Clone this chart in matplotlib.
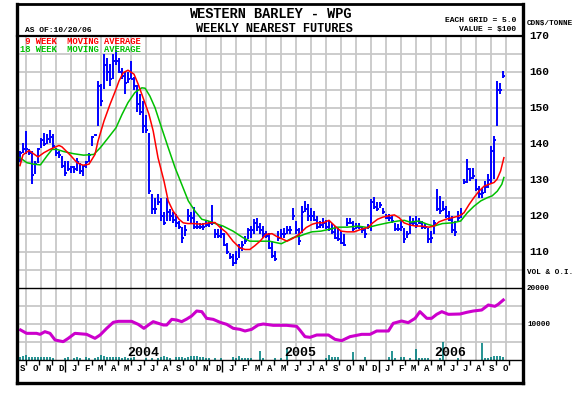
import matplotlib
matplotlib.use("Agg")
import matplotlib.pyplot as plt
import numpy as np

W, H = 576, 396
FONT = "Liberation Mono"

# weekly bars, Sep 2003 .. Oct 2006 (week index 0..161)
highs = [138.1, 140.4, 143.6, 138.5, 138.0, 135.3, 139.0, 141.8, 143.1, 142.7, 144.0, 142.7, 139.0, 138.0, 136.7, 135.3,
         135.3, 133.9, 133.9, 136.2, 134.8, 134.3, 135.3, 137.6, 142.2, 142.7, 157.5, 156.6, 164.9, 164.0, 162.1, 164.9,
         166.0, 164.0, 161.0, 160.0, 160.0, 163.0, 158.5, 156.5, 154.0, 152.0, 148.0, 143.0, 126.0, 125.0, 126.0, 125.0,
         121.0, 125.0, 122.0, 121.0, 120.5, 118.5, 117.0, 117.5, 122.0, 121.0, 122.5, 118.5, 118.0, 118.0, 118.5, 118.5,
         123.0, 116.3, 116.3, 117.2, 115.4, 112.6, 109.8, 109.4, 110.3, 112.1, 113.0, 114.4, 116.8, 117.2, 119.1, 119.5,
         118.1, 117.2, 115.8, 115.4, 113.0, 110.3, 115.8, 116.3, 116.8, 117.2, 117.2, 122.2, 118.5, 116.8, 122.7, 124.2,
         123.3, 122.2, 121.4, 120.0, 118.6, 119.5, 119.0, 118.6, 118.1, 117.2, 116.8, 115.8, 114.9, 119.5, 119.5, 118.6,
         118.1, 118.1, 117.2, 116.8, 117.7, 124.7, 125.2, 123.8, 123.8, 122.3, 120.5, 120.5, 120.0, 118.1, 117.7, 118.6,
         116.8, 115.8, 120.0, 119.5, 120.0, 119.5, 118.6, 118.0, 116.8, 115.8, 119.0, 127.4, 125.5, 124.2, 122.8, 121.4,
         120.0, 118.6, 121.4, 122.3, 130.2, 135.7, 133.4, 133.4, 130.2, 128.3, 127.9, 129.7, 131.6, 139.4, 142.2, 157.5,
         157.0, 160.3]
lows = [134.9, 137.6, 137.1, 137.0, 128.8, 131.6, 134.8, 139.0, 139.4, 140.0, 140.4, 139.0, 136.7, 136.2, 133.4, 131.0,
        132.5, 132.0, 132.0, 132.5, 131.6, 131.0, 133.4, 134.9, 139.4, 142.2, 145.0, 150.5, 155.2, 157.5, 156.1, 158.0,
        162.0, 159.8, 158.0, 154.0, 157.0, 158.0, 155.0, 149.0, 148.0, 143.0, 143.0, 126.0, 120.5, 120.5, 123.0, 118.5,
        117.5, 118.5, 118.5, 118.0, 117.0, 116.5, 112.5, 114.5, 118.5, 118.0, 116.5, 116.5, 116.5, 116.0, 117.0, 117.0,
        117.5, 114.0, 113.8, 114.0, 111.7, 109.4, 108.0, 106.1, 106.6, 108.4, 110.3, 112.1, 113.5, 114.0, 114.9, 115.8,
        114.9, 114.0, 114.0, 110.7, 108.4, 107.5, 113.0, 113.5, 114.0, 114.9, 114.9, 119.0, 114.9, 112.0, 115.3, 121.0,
        118.6, 118.6, 118.6, 116.3, 116.8, 116.8, 116.3, 115.8, 114.9, 113.5, 113.0, 112.1, 111.7, 117.2, 117.7, 115.8,
        116.3, 116.3, 115.4, 114.0, 116.3, 115.8, 121.9, 121.4, 122.3, 120.5, 119.1, 118.6, 118.1, 115.8, 115.8, 115.8,
        112.5, 114.0, 114.9, 117.2, 116.8, 117.7, 116.3, 116.5, 112.6, 112.6, 114.9, 121.4, 120.5, 121.4, 119.5, 118.6,
        115.4, 114.4, 118.6, 119.5, 128.8, 129.3, 129.7, 130.2, 126.9, 125.1, 125.1, 126.5, 127.9, 129.3, 130.2, 145.0,
        153.8, 158.4]
closes = [137.5, 138.5, 138.5, 137.5, 131.5, 134.5, 138.5, 141.0, 140.0, 141.5, 142.0, 139.5, 137.5, 137.0, 134.0, 132.0,
          133.0, 133.5, 133.0, 135.0, 132.5, 134.0, 135.0, 137.0, 142.0, 142.5, 156.0, 152.0, 162.0, 160.0, 158.0, 163.0,
          163.0, 160.0, 159.0, 157.0, 158.0, 158.0, 156.0, 151.0, 149.0, 145.0, 144.0, 127.0, 122.0, 122.0, 124.0, 120.0,
          118.0, 121.0, 120.0, 119.0, 118.0, 117.0, 114.0, 116.0, 120.0, 119.5, 117.0, 117.0, 117.0, 117.0, 117.5, 118.0,
          118.0, 115.0, 114.5, 115.0, 112.0, 110.0, 108.5, 107.0, 108.0, 111.0, 112.0, 113.0, 116.0, 116.0, 118.0, 117.0,
          116.0, 115.0, 114.5, 111.0, 109.0, 108.0, 114.0, 115.0, 115.0, 116.0, 116.0, 120.0, 116.0, 113.0, 121.0, 122.0,
          120.0, 120.0, 119.0, 117.0, 117.5, 118.0, 117.0, 116.5, 115.5, 114.0, 113.5, 112.5, 112.0, 118.0, 118.0, 116.5,
          117.0, 117.0, 116.0, 115.0, 117.0, 124.0, 122.5, 122.0, 123.0, 121.0, 119.5, 119.5, 118.5, 116.5, 116.5, 117.0,
          113.5, 115.0, 118.0, 118.0, 117.5, 118.0, 117.0, 117.0, 113.5, 114.0, 118.0, 122.0, 121.5, 122.0, 120.0, 119.0,
          116.0, 115.5, 119.5, 120.5, 129.5, 133.0, 130.5, 131.0, 127.5, 126.0, 126.5, 128.0, 130.0, 138.0, 141.0, 155.0,
          155.0, 159.0]
volume = [700, 1000, 1500, 700, 700, 700, 700, 800, 700, 700, 800, 600, 0, 0, 0, 600, 700, 0, 600, 700, 600, 0, 700, 600, 0, 600, 800,
          1300, 1000, 900, 800, 700, 700, 800, 600, 700, 600, 600, 700, 0, 0, 0, 600, 0, 600, 0, 600, 800, 1000, 800, 600, 0, 900, 900,
          800, 600, 900, 1100, 1100, 1000, 900, 700, 600, 600, 0, 600, 0, 600, 0, 0, 0, 800, 600, 1200, 600, 600, 600, 600, 0, 0, 2600,
          600, 0, 0, 0, 600, 0, 600, 0, 3000, 0, 0, 0, 0, 0, 0, 0, 0, 0, 0, 0, 0, 600, 1500, 700, 700, 700, 0,
          0, 0, 0, 2100, 0, 0, 0, 700, 0, 0, 0, 0, 0, 0, 0, 700, 2600, 600, 0, 700, 700, 0, 600, 0, 3000, 600, 600,
          600, 600, 0, 0, 0, 600, 5100, 0, 0, 0, 0, 600, 0, 0, 0, 0, 0, 0, 0, 4600, 600, 600, 900, 1100, 1200, 1000, 800]

# moving averages (week, value)
ma9_wk = [0, 1, 3, 4, 6, 8, 10, 13, 14, 17, 19, 21, 23, 25, 26, 28, 30, 32, 33, 34.4, 36, 38, 39.4, 41, 43, 44.4, 46, 48,
          49.4, 51, 53, 54.4, 56, 58, 60.6, 63, 65, 66.6, 68.8, 71, 73.2, 75, 76.6, 78.2, 80, 82, 84, 85.4, 87, 89, 91, 93,
          95.4, 97.4, 99, 101, 103, 105, 107, 109, 111.4, 113.7, 116, 117.6, 119.2, 121, 122.6, 124.8, 126.4, 128, 130, 132,
          134, 136.3, 138, 139.7, 142, 144, 146.3, 148, 149.7, 151.3, 153, 154.7, 156.3, 158, 159, 160.2, 161.3]
ma9_val = [134.0, 137.0, 138.2, 137.6, 136.4, 137.6, 138.5, 139.6, 139.2, 136.7, 134.8, 134.1, 134.4, 137.1, 140.8, 146.4,
           151.0, 155.2, 157.5, 159.8, 160.5, 159.4, 156.6, 152.9, 148.2, 143.6, 136.2, 129.7, 124.2, 121.4, 119.1, 118.1,
           117.9, 117.9, 117.7, 118.1, 118.2, 116.9, 115.4, 113.0, 111.2, 110.7, 110.7, 111.7, 113.0, 114.9, 115.1, 114.4,
           113.8, 113.0, 113.8, 114.9, 116.8, 117.7, 118.1, 118.1, 118.8, 117.2, 115.8, 115.6, 115.6, 116.3, 116.8, 118.1,
           119.1, 119.7, 120.0, 120.3, 119.5, 118.1, 117.5, 117.2, 117.2, 116.9, 117.2, 118.4, 119.1, 119.5, 120.0, 120.9,
           123.2, 125.1, 126.9, 128.3, 128.8, 129.3, 130.2, 132.5, 136.2]
ma18_wk = [0, 2.3, 4.6, 6.8, 9, 10.7, 12.3, 14.6, 17.9, 21.2, 24.6, 26.8, 29, 32, 34, 36, 38.3, 40.6, 41.7, 43.3, 45, 47.2,
           49.4, 51.7, 53.9, 56.1, 58.3, 60.6, 62.8, 64.8, 67.7, 71, 74.3, 76.6, 79.9, 83.2, 85.4, 87.1, 88.8, 91, 93.2,
           95.4, 97.3, 100.3, 103.1, 105.9, 109.2, 112.6, 115.9, 119.2, 122.6, 125.9, 128.1, 130, 133, 135.8, 138, 140.8,
           144.1, 146.9, 149.1, 151.3, 153.6, 155.8, 157.4, 159.1, 160.6, 161.3]
ma18_val = [136.2, 134.8, 134.4, 134.2, 136.7, 138.5, 138.5, 137.9, 137.3, 136.9, 137.1, 139.0, 141.3, 144.5, 148.2, 151.5,
            154.3, 155.6, 155.5, 153.3, 150.1, 144.5, 139.0, 133.4, 128.8, 124.2, 121.4, 119.1, 118.6, 118.0, 117.2, 115.8,
            114.0, 113.0, 113.0, 113.0, 112.6, 112.3, 113.0, 114.0, 114.4, 115.1, 115.6, 115.8, 116.3, 116.9, 116.9, 117.2,
            116.8, 117.5, 118.1, 118.6, 118.8, 118.3, 118.6, 117.7, 117.2, 117.9, 118.1, 118.6, 120.9, 122.7, 124.2, 125.1,
            125.6, 126.9, 128.8, 130.7]

# open interest (week, contracts)
oi_wk = [0.2, 2.2, 5.5, 6.7, 8.3, 10, 11.7, 14.4, 16.1, 18.3, 22.2, 25, 26.7, 28.9, 31.1, 32.8, 37.2, 39.4, 41.3, 42.8, 44.4,
         46.1, 47.8, 48.9, 50.6, 52.2, 53.9, 55.6, 57.2, 58.9, 60.6, 62.2, 64.4, 66.7, 68.9, 71.1, 73.3, 75, 77.2, 79.4, 81.1,
         84.4, 88.9, 92.2, 93.3, 95, 96.7, 98.9, 102.8, 105, 107.2, 110, 113.9, 116.7, 118.9, 122.8, 124.4, 127.2, 129.4,
         131.7, 133.3, 135.6, 137.2, 138.9, 140.6, 142.8, 146.7, 148.9, 151.1, 153.9, 156.1, 158.3, 159.4, 161.1]
oi_val = [8333, 7407, 7407, 7130, 7870, 7407, 5556, 5093, 6019, 7407, 7130, 6019, 6944, 8796, 10463, 10741, 10741, 9907,
          8796, 9722, 10648, 10185, 9722, 9722, 11296, 11111, 10648, 11389, 12222, 13611, 13426, 11574, 11296, 10463, 9907,
          8796, 8519, 8056, 8519, 9722, 10000, 9630, 9630, 9350, 8300, 6481, 6296, 6944, 6944, 5741, 5370, 6481, 7130, 7130,
          8056, 8056, 10185, 10833, 10370, 11574, 13426, 11574, 11574, 12685, 13426, 12685, 12778, 13241, 13611, 13889,
          15278, 14907, 15463, 16667]

months = list("SONDJFMAMJJASONDJFMAMJJASONDJFMAMJJASO")
years = ["2004", "2005", "2006"]
year_wk = [41, 93.3, 143.3]
price_ticks = [170, 160, 150, 140, 130, 120, 110]


def rect(x0, y0, x1, y1):
    return [x0 / W, 1 - y1 / H, (x1 - x0) / W, (y1 - y0) / H]


weeks = np.arange(len(highs))
xlim = (-1, (523 - 20) / 3)
grid_wk = np.arange(2, 163, 5)
GRID = "#c8c8c8"

fig = plt.figure(figsize=(W / 100, H / 100), dpi=100)

# price panel
ax_p = fig.add_axes(rect(17, 36, 523, 288))
ax_p.set_xlim(*xlim)
ax_p.set_ylim(100, 170)
ax_p.vlines(grid_wk, 100, 170, color=GRID, lw=1.3, zorder=0)
ax_p.hlines(np.arange(105, 170, 5), xlim[0], xlim[1], color=GRID, lw=1.3, zorder=0)
ax_p.vlines(weeks, lows, highs, color="#0000ff", lw=1.4, zorder=2)
ax_p.hlines(closes, weeks, weeks + 0.8, color="#0000ff", lw=1.4, zorder=2)
ax_p.plot(ma18_wk, ma18_val, color="#00c000", lw=1.1, zorder=3)
ax_p.plot(ma9_wk, ma9_val, color="#ff0000", lw=1.1, zorder=3)
ax_p.axis("off")

# volume / open interest panel
ax_v = fig.add_axes(rect(17, 288, 523, 360))
ax_v.set_xlim(*xlim)
ax_v.set_ylim(0, 20000)
ax_v.vlines(grid_wk, 0, 20000, color=GRID, lw=1.3, zorder=0)
ax_v.hlines([5000, 10000, 15000], xlim[0], xlim[1], color=GRID, lw=1.3, zorder=0)
ax_v.vlines(weeks, 0, volume, color="#008080", lw=1.2, zorder=2)
ax_v.plot(oi_wk, oi_val, color="#cc00cc", lw=2.2, zorder=3)
for yr, wk in zip(years, year_wk):
    ax_v.text(wk, 300, yr, ha="center", va="bottom", fontsize=9.5, fontweight="bold",
              family=FONT, color="black", zorder=4)
ax_v.axis("off")

# month strip
ax_m = fig.add_axes(rect(17, 360, 523, 383))
ax_m.set_xlim(*xlim)
ax_m.set_ylim(23, 0)
for k, m in enumerate(months):
    wk = 0.667 + 4.35 * k
    ax_m.text(wk, 8.5, m, ha="center", va="center", fontsize=6.5, fontweight="bold", family=FONT)
    tick_len = 12 if m == "D" else 5
    ax_m.vlines(wk + 1.43, 0, tick_len, color="black", lw=1.0)
ax_m.axis("off")

# frame and texts in pixel coordinates
ax_f = fig.add_axes([0, 0, 1, 1])
ax_f.set_xlim(0, W)
ax_f.set_ylim(H, 0)
ax_f.patch.set_alpha(0)
ax_f.axis("off")
ax_f.plot([17, 523], [4, 4], color="black", lw=2.0)
ax_f.plot([17, 17], [4, 383], color="black", lw=2.4)
ax_f.plot([523, 523], [4, 383], color="black", lw=2.4)
ax_f.plot([17, 523], [383, 383], color="black", lw=2.4)
ax_f.plot([17, 523], [36, 36], color="black", lw=1.6)
ax_f.plot([17, 523], [288, 288], color="black", lw=1.0)
ax_f.plot([17, 523], [360, 360], color="black", lw=1.0)

kw = dict(family=FONT, fontweight="bold", color="black")
ax_f.text(270, 14, "WESTERN BARLEY - WPG", ha="center", va="center", fontsize=9.8, **kw)
ax_f.text(274, 29, "WEEKLY NEAREST FUTURES", ha="center", va="center", fontsize=8.6, **kw)
ax_f.text(25, 30, "AS OF:10/20/06", ha="left", va="center", fontsize=5.8, **kw)
ax_f.text(516, 21, "EACH GRID = 5.0", ha="right", va="center", fontsize=5.8, **kw)
ax_f.text(516, 30, "VALUE = $100", ha="right", va="center", fontsize=5.8, **kw)
ax_f.text(527, 23, "CDN$/TONNE", ha="left", va="center", fontsize=5.5, **kw)
for p in price_ticks:
    ax_f.text(529, 36 + (170 - p) * 3.6, str(p), ha="left", va="center", fontsize=8, **kw)
ax_f.text(527, 273, "VOL & O.I.", ha="left", va="center", fontsize=5.5, **kw)
ax_f.text(527, 288, "20000", ha="left", va="center", fontsize=5.5, **kw)
ax_f.text(527, 324, "10000", ha="left", va="center", fontsize=5.5, **kw)
ax_f.text(20, 42, " 9 WEEK  MOVING AVERAGE", ha="left", va="center", fontsize=6.3,
          family=FONT, fontweight="bold", color="#ff0000")
ax_f.text(20, 50, "18 WEEK  MOVING AVERAGE", ha="left", va="center", fontsize=6.3,
          family=FONT, fontweight="bold", color="#00c000")

fig.savefig("out.png", dpi=100)
